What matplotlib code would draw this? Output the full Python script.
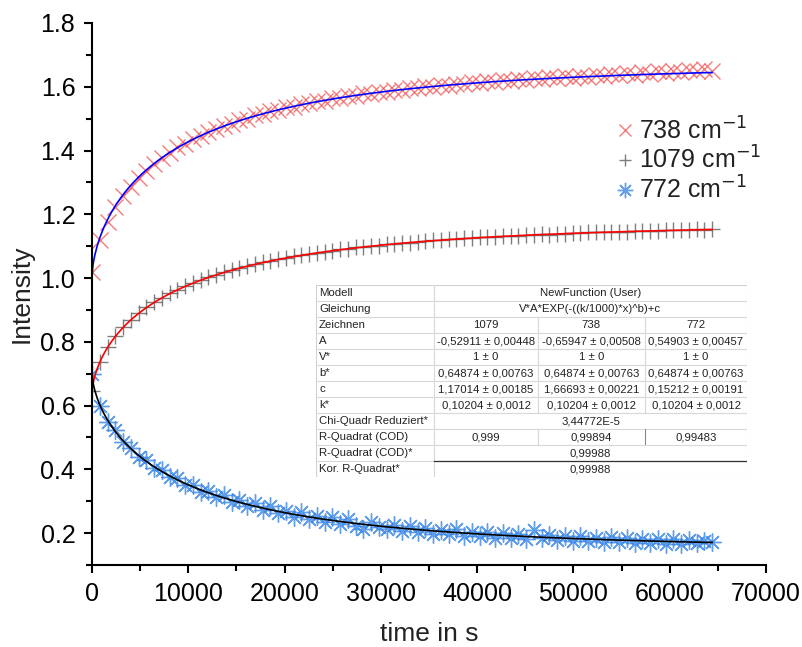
import numpy as np
import matplotlib.pyplot as plt
from matplotlib.ticker import MultipleLocator

plt.rcParams['font.family'] = ['Liberation Sans', 'DejaVu Sans']

# Messzeiten in s
time_s = [0, 805, 1610, 2415, 3220, 4025, 4830, 5635, 6440, 7245,
          8050, 8855, 9660, 10465, 11270, 12075, 12880, 13685, 14490, 15295,
          16100, 16905, 17710, 18515, 19320, 20125, 20930, 21735, 22540, 23345,
          24150, 24955, 25760, 26565, 27370, 28175, 28980, 29785, 30590, 31395,
          32200, 33005, 33810, 34615, 35420, 36225, 37030, 37835, 38640, 39445,
          40250, 41055, 41860, 42665, 43470, 44275, 45080, 45885, 46690, 47495,
          48300, 49105, 49910, 50715, 51520, 52325, 53130, 53935, 54740, 55545,
          56350, 57155, 57960, 58765, 59570, 60375, 61180, 61985, 62790, 63595,
          64400]

# Intensitaeten der drei Banden
int_738 = [1.020, 1.118, 1.176, 1.222, 1.258, 1.287, 1.314, 1.336, 1.358, 1.378,
           1.392, 1.410, 1.421, 1.436, 1.445, 1.458, 1.466, 1.478, 1.484, 1.495,
           1.500, 1.510, 1.514, 1.523, 1.526, 1.535, 1.537, 1.546, 1.548, 1.556,
           1.556, 1.565, 1.565, 1.572, 1.572, 1.579, 1.578, 1.585, 1.585, 1.591,
           1.590, 1.597, 1.595, 1.601, 1.600, 1.605, 1.603, 1.610, 1.608, 1.614,
           1.612, 1.618, 1.614, 1.621, 1.617, 1.624, 1.621, 1.628, 1.624, 1.630,
           1.626, 1.633, 1.629, 1.635, 1.631, 1.638, 1.634, 1.640, 1.636, 1.642,
           1.637, 1.645, 1.640, 1.648, 1.643, 1.650, 1.645, 1.653, 1.648, 1.655,
           1.650]

int_1079 = [0.645, 0.738, 0.784, 0.819, 0.846, 0.870, 0.890, 0.908, 0.925, 0.939,
            0.953, 0.963, 0.976, 0.985, 0.995, 1.003, 1.011, 1.019, 1.025, 1.032,
            1.038, 1.044, 1.049, 1.054, 1.059, 1.063, 1.068, 1.072, 1.076, 1.079,
            1.083, 1.086, 1.090, 1.092, 1.096, 1.097, 1.101, 1.102, 1.106, 1.107,
            1.110, 1.111, 1.114, 1.115, 1.118, 1.119, 1.122, 1.122, 1.125, 1.125,
            1.128, 1.128, 1.130, 1.131, 1.133, 1.132, 1.135, 1.135, 1.137, 1.136,
            1.139, 1.139, 1.141, 1.140, 1.143, 1.143, 1.145, 1.144, 1.146, 1.146,
            1.148, 1.147, 1.149, 1.148, 1.150, 1.150, 1.152, 1.150, 1.153, 1.152,
            1.154]

int_772 = [0.700, 0.598, 0.548, 0.522, 0.486, 0.468, 0.440, 0.428, 0.404, 0.398,
           0.376, 0.372, 0.352, 0.350, 0.330, 0.332, 0.312, 0.318, 0.298, 0.303,
           0.284, 0.295, 0.272, 0.286, 0.262, 0.270, 0.252, 0.266, 0.244, 0.254,
           0.236, 0.250, 0.228, 0.243, 0.222, 0.212, 0.236, 0.218, 0.214, 0.226,
           0.208, 0.222, 0.204, 0.215, 0.198, 0.211, 0.196, 0.212, 0.192, 0.205,
           0.190, 0.202, 0.186, 0.200, 0.184, 0.197, 0.183, 0.210, 0.185, 0.194,
           0.178, 0.192, 0.176, 0.190, 0.175, 0.186, 0.173, 0.188, 0.172, 0.184,
           0.170, 0.183, 0.168, 0.182, 0.167, 0.180, 0.166, 0.178, 0.168, 0.176,
           0.172]

# Fitparameter: V*A*EXP(-((k/1000)*x)^b)+c
bands = ['1079', '738', '772']
fit_A = [-0.52911, -0.65947, 0.54903]
fit_c = [1.17014, 1.66693, 0.15212]
fit_b = 0.64874
fit_k = 0.10204
fit_V = 1.0


def model(x, A, c):
    return fit_V * A * np.exp(-((fit_k / 1000) * x) ** fit_b) + c


fig = plt.figure(figsize=(8.02, 6.47), dpi=100)
ax = fig.add_axes([92 / 802, 1 - 565 / 647, (766 - 92) / 802, (565 - 23) / 647])

ax.plot(time_s, int_738, ls='none', marker='x', ms=11, mew=1.0,
        color='#f25a5a', alpha=0.8, label='738 cm$^{-1}$')
ax.plot(time_s, int_1079, ls='none', marker='+', ms=11, mew=1.0,
        color='#666666', alpha=0.85, label='1079 cm$^{-1}$')
ax.plot(time_s, int_772, ls='none', marker=(8, 2, 0), ms=13, mew=1.0,
        color='#3a86e8', alpha=0.8, label='772 cm$^{-1}$')

xfit = np.linspace(0, time_s[-1], 600)
ax.plot(xfit, model(xfit, fit_A[1], fit_c[1]), color='#0000ff', lw=1.2)
ax.plot(xfit, model(xfit, fit_A[0], fit_c[0]), color='#ff0000', lw=1.2)
ax.plot(xfit, model(xfit, fit_A[2], fit_c[2]), color='black', lw=1.2)

ax.set_xlim(0, 70000)
ax.set_ylim(0.1, 1.8)
ax.xaxis.set_major_locator(MultipleLocator(10000))
ax.xaxis.set_minor_locator(MultipleLocator(5000))
ax.yaxis.set_major_locator(MultipleLocator(0.2))
ax.yaxis.set_minor_locator(MultipleLocator(0.1))
ax.yaxis.set_major_formatter(plt.FormatStrFormatter('%.1f'))
for side in ['top', 'right']:
    ax.spines[side].set_visible(False)
for side in ['left', 'bottom']:
    ax.spines[side].set_linewidth(1.5)
ax.tick_params(which='major', direction='out', length=6, width=1.5,
               labelsize=18, pad=6)
ax.tick_params(which='minor', direction='out', length=4, width=1.5)
ax.set_xlabel('time in s', fontsize=19, color='#222222', labelpad=12)
ax.set_ylabel('Intensity', fontsize=19, color='#222222', labelpad=5)

leg = ax.legend(loc='upper left', bbox_to_anchor=(0.765, 0.845), frameon=False,
                fontsize=18, handlelength=0.6, handletextpad=0.25,
                labelspacing=0.1, borderaxespad=0, markerscale=0.85)
for t in leg.get_texts():
    t.set_color('#222222')

# Ergebnistabelle des Fits
tab = fig.add_axes([316 / 802, 1 - 477 / 647, (747 - 316) / 802, 192 / 647])
tab.set_xlim(0, 431)
tab.set_ylim(192, 0)
tab.axis('off')
tab.add_patch(plt.Rectangle((0, 0), 431, 192, facecolor='white',
                            edgecolor='#d0d0d0', lw=0.8))
cols = [0, 118, 222, 329, 431]
row_h = 16
fs = 8.2

row_labels = ['Modell', 'Gleichung', 'Zeichnen', 'A', 'V*', 'b*', 'c', 'k*',
              'Chi-Quadr Reduziert*', 'R-Quadrat (COD)', 'R-Quadrat (COD)*',
              'Kor. R-Quadrat*']
row_values = [
    ['NewFunction (User)'],
    ['V*A*EXP(-((k/1000)*x)^b)+c'],
    bands,
    ['-0,52911 ± 0,00448', '-0,65947 ± 0,00508', '0,54903 ± 0,00457'],
    ['1 ± 0', '1 ± 0', '1 ± 0'],
    ['0,64874 ± 0,00763', '0,64874 ± 0,00763', '0,64874 ± 0,00763'],
    ['1,17014 ± 0,00185', '1,66693 ± 0,00221', '0,15212 ± 0,00191'],
    ['0,10204 ± 0,0012', '0,10204 ± 0,0012', '0,10204 ± 0,0012'],
    ['3,44772E-5'],
    ['0,999', '0,99894', '0,99483'],
    ['0,99988'],
    ['0,99988'],
]

for i, (lab, vals) in enumerate(zip(row_labels, row_values)):
    y0 = i * row_h
    ym = y0 + row_h / 2
    if i > 0:
        tab.plot([0, 431], [y0, y0], color='#d8d8d8', lw=0.8)
    tab.plot([cols[1], cols[1]], [y0, y0 + row_h], color='#d8d8d8', lw=0.8)
    tab.text(3, ym, lab, fontsize=fs, va='center', ha='left', color='#222222')
    if len(vals) == 1:
        tab.text((cols[1] + cols[4]) / 2, ym, vals[0], fontsize=fs,
                 va='center', ha='center', color='#222222')
    else:
        for j, v in enumerate(vals):
            tab.text((cols[j + 1] + cols[j + 2]) / 2, ym, v, fontsize=fs,
                     va='center', ha='center', color='#222222')
        for j in (2, 3):
            tab.plot([cols[j], cols[j]], [y0, y0 + row_h],
                     color='#888888' if i == 9 and j == 3 else '#d8d8d8', lw=0.8)

tab.plot([cols[1], 431], [11 * row_h, 11 * row_h], color='#333333', lw=0.9)

fig.savefig('out.png', dpi=100)
